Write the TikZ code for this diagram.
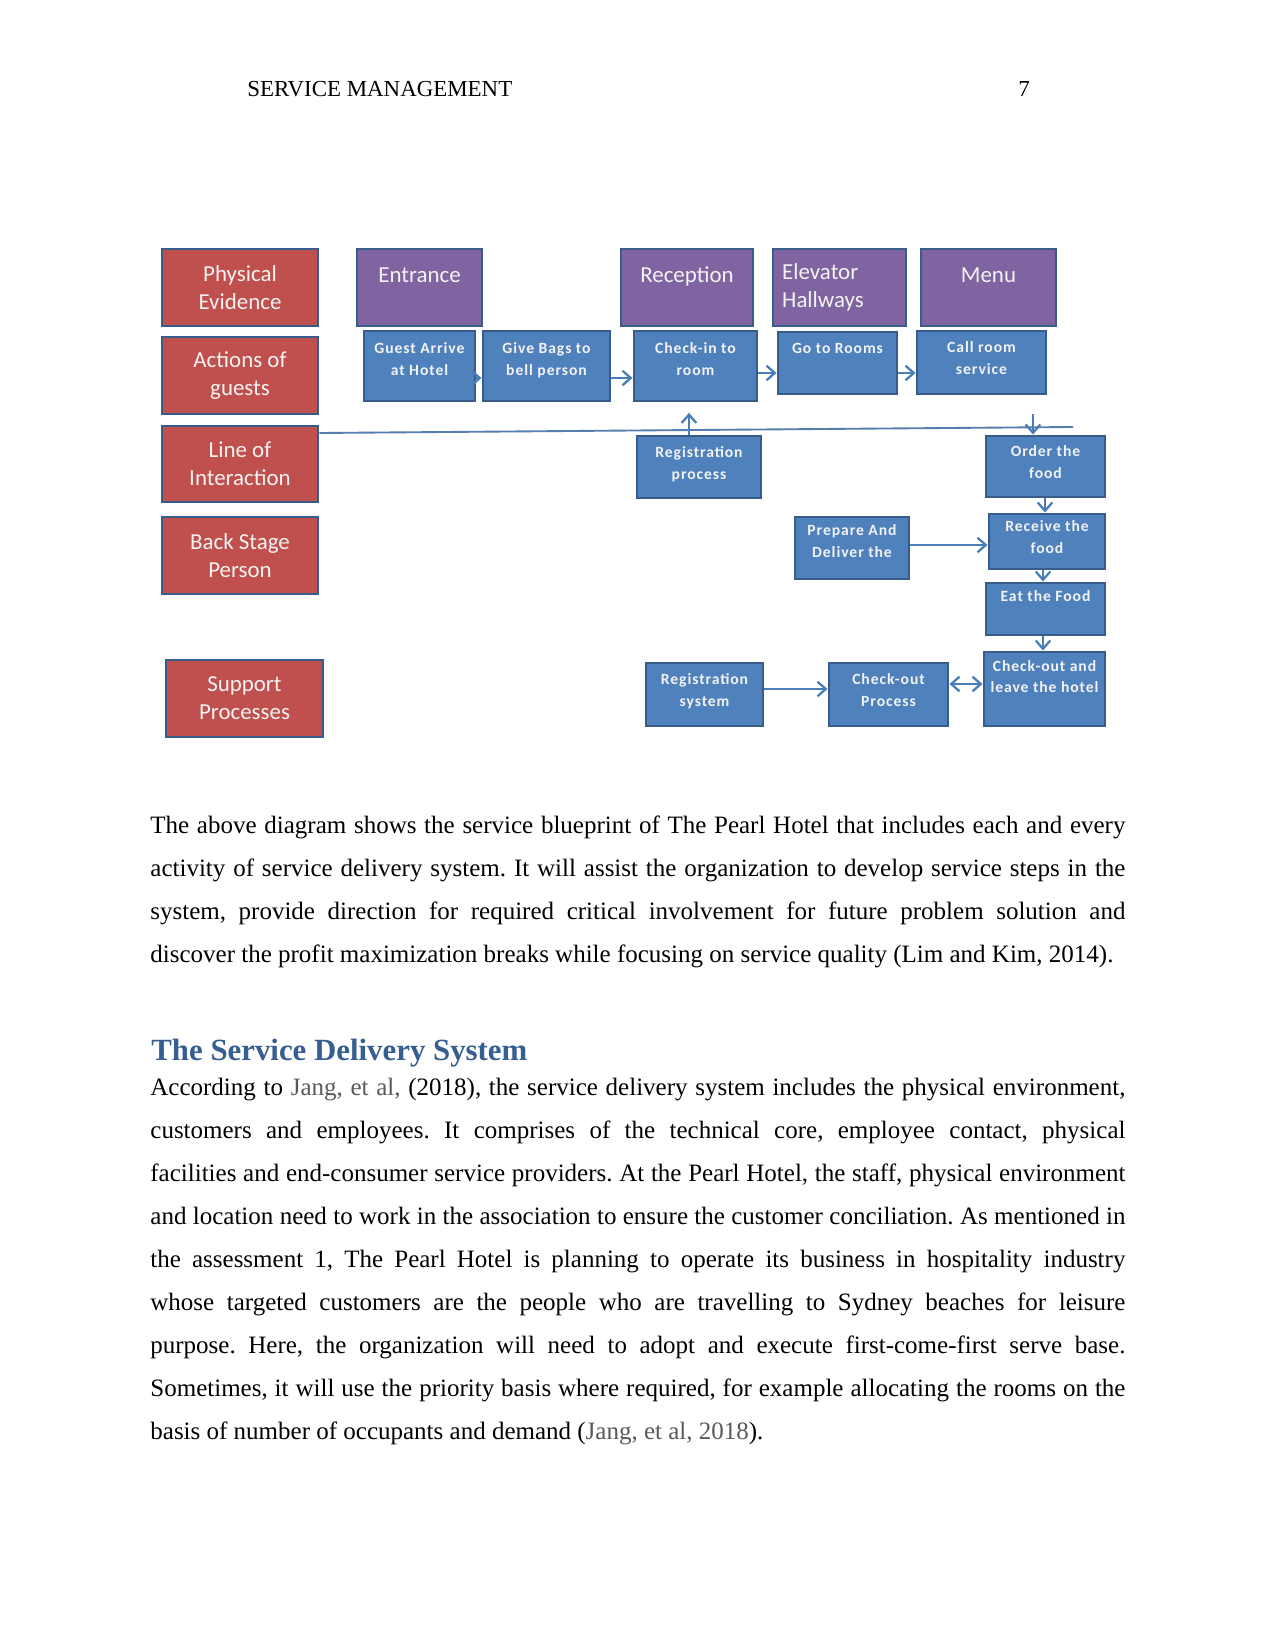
\documentclass[tikz,border=0pt]{standalone}
\usepackage{fontspec}
\setmainfont{Liberation Serif}
\newfontfamily\boxfont{Carlito}
\newfontfamily\stepfont{Carlito}[LetterSpace=6]
\newfontfamily\headfont{Liberation Serif}
\usetikzlibrary{arrows.meta}
\definecolor{redfill}{HTML}{C0504D}
\definecolor{purfill}{HTML}{8064A2}
\definecolor{bluefill}{HTML}{4F81BD}
\definecolor{bordercol}{HTML}{385D8A}
\definecolor{arrowcol}{HTML}{4A7EBB}
\definecolor{headblue}{HTML}{365F91}
\definecolor{citegray}{HTML}{595959}
\newcommand\bx[7]{\node[#6, minimum width={(#4-#2)*0.48pt}, minimum height={(#5-#3)*0.48pt}] (#1) at ({(#2+#4)/2},{(#3+#5)/2}) {#7};}
\newcommand\jline[1]{\makebox[468pt][s]{#1}}
\newcommand\cit[1]{\textcolor{citegray}{#1}}
\frenchspacing
\tikzset{
  boxbase/.style={draw=bordercol, line width=1.4pt, text=white!95!black, align=center, inner sep=0pt},
  redbox/.style={boxbase, fill=redfill, font=\boxfont\fontsize{11}{13.5}\selectfont},
  purbox/.style={boxbase, fill=purfill, font=\boxfont\fontsize{11}{13.5}\selectfont},
  stepbox/.style={boxbase, fill=bluefill, font=\stepfont\bfseries\fontsize{7.5}{10.5}\selectfont, text depth=7pt},
  arr/.style={draw=arrowcol, line width=1.1pt, -{Straight Barb[length=4pt,width=7pt]}},
  darr/.style={draw=arrowcol, line width=1.1pt, {Straight Barb[length=4pt,width=7pt]}-{Straight Barb[length=4pt,width=7pt]}},
  lineint/.style={draw=arrowcol!80!gray, line width=0.9pt},
  txt/.style={anchor=base west, inner sep=0pt, font=\frenchspacing\fontsize{12}{14}\selectfont}
}
\begin{document}
\begin{tikzpicture}[x=0.48pt, y=-0.48pt]
\useasboundingbox (0,0) rectangle (1275,1650);
\fill[white] (0,0) rectangle (1275,1650);

% header
\node[txt, font=\fontsize{11}{13}\selectfont] (hdr) at (247,97) {SERVICE MANAGEMENT};
\node[txt, font=\fontsize{11}{13}\selectfont] (pg) at (1018,97) {7};

% red boxes
\bx{pe}{162}{249}{318}{326}{redbox}{Physical\\Evidence}
\bx{aog}{162}{337}{318}{414}{redbox}{Actions of\\guests}
\bx{loi}{162}{426}{318}{502}{redbox}{Line of\\Interaction}
\bx{bsp}{162}{517}{318}{594}{redbox}{Back Stage\\Person}
\bx{sp}{166}{660}{323}{737}{redbox}{Support\\Processes}

% purple boxes
\bx{ent}{357}{249}{482}{326}{purbox, text depth=12pt}{Entrance}
\bx{rec}{621}{249}{753}{326}{purbox, text depth=12pt}{Reception}
\bx{elev}{773}{249}{906}{326}{purbox, align=left, text width=55pt}{Elevator\\Hallways}
\bx{menu}{921}{249}{1056}{326}{purbox, text depth=12pt}{Menu}

% blue step boxes
\bx{ga}{364}{331}{475}{401}{stepbox}{Guest Arrive\\at Hotel}
\bx{gb}{483}{331}{610}{401}{stepbox}{Give Bags to\\bell person}
\bx{ci}{634}{331}{757}{401}{stepbox}{Check-in to\\room}
\bx{gr}{778}{332}{897}{394}{stepbox, text depth=14pt}{Go to Rooms}
\bx{crs}{917}{331}{1046}{394}{stepbox, text depth=4pt}{Call room\\service}
\bx{rp}{637}{436}{761}{498}{stepbox, text depth=4pt}{Registration\\process}
\bx{of}{986}{436}{1105}{497}{stepbox, text depth=4pt}{Order the\\food}
\bx{pd}{795}{517}{909}{579}{stepbox}{Prepare And\\Deliver the}
\bx{rf}{989}{514}{1105}{569}{stepbox, text depth=4pt}{Receive the\\food}
\bx{ef}{986}{583}{1105}{635}{stepbox, text depth=12pt}{Eat the Food}
\bx{co}{984}{652}{1105}{726}{stepbox, text depth=12pt}{Check-out and\\leave the hotel}
\bx{rs}{646}{663}{763}{726}{stepbox, text depth=4pt}{Registration\\system}
\bx{cop}{829}{663}{948}{726}{stepbox, text depth=4pt}{Check-out\\Process}

% line of interaction
\coordinate (loiE) at (1073,427);
\draw[lineint] (loi.east |- 0,433) -- (loiE);

% connectors
\draw[arr] (ga.east |- 0,378) -- (gb.west |- 0,378);
\draw[arr] (gb.east |- 0,378) -- (ci.west |- 0,378);
\draw[arr] (ci.east |- 0,373) -- (gr.west |- 0,373);
\draw[arr] (gr.east |- 0,373) -- (crs.west |- 0,373);
\draw[arr, shorten >=5pt] (689,0 |- rp.north) -- (689,0 |- ci.south);
\draw[arr, shorten <=9pt] (1033,0 |- crs.south) -- (1033,0 |- of.north);
\draw[arr] (1045,0 |- of.south) -- (1045,0 |- rf.north);
\draw[arr] (1043,0 |- rf.south) -- (1043,0 |- ef.north);
\draw[arr] (1043,0 |- ef.south) -- (1043,0 |- co.north);
\draw[arr] (pd.east |- 0,545) -- (rf.west |- 0,545);
\draw[arr] (rs.east |- 0,689) -- (cop.west |- 0,689);
\draw[darr] (cop.east |- 0,684) -- (co.west |- 0,684);

% paragraph 1
\node[txt] (p1a) at (150,833) {\jline{The above diagram shows the service blueprint of The Pearl Hotel that includes each and every}};
\node[txt] (p1b) at (150,876.3) {\jline{activity of service delivery system. It will assist the organization to develop service steps in the}};
\node[txt] (p1c) at (150,919.6) {\jline{system, provide direction for required critical involvement for future problem solution and}};
\node[txt] (p1d) at (150,962.9) {discover the profit maximization breaks while focusing on service quality (Lim and Kim, 2014).};

% heading
\node[anchor=base west, inner sep=0pt, text=headblue, font=\headfont\bfseries\fontsize{14.8}{17}\selectfont] (head) at (151,1060) {The Service Delivery System};

% paragraph 2
\node[txt] (p2a) at (150,1095) {\jline{According to \cit{Jang, et al,} (2018), the service delivery system includes the physical environment,}};
\node[txt] (p2b) at (150,1138.1) {\jline{customers and employees. It comprises of the technical core, employee contact, physical}};
\node[txt] (p2c) at (150,1181.2) {\jline{facilities and end-consumer service providers. At the Pearl Hotel, the staff, physical environment}};
\node[txt] (p2d) at (150,1224.3) {\jline{and location need to work in the association to ensure the customer conciliation. As mentioned in}};
\node[txt] (p2e) at (150,1267.4) {\jline{the assessment 1, The Pearl Hotel is planning to operate its business in hospitality industry}};
\node[txt] (p2f) at (150,1310.5) {\jline{whose targeted customers are the people who are travelling to Sydney beaches for leisure}};
\node[txt] (p2g) at (150,1353.6) {\jline{purpose. Here, the organization will need to adopt and execute first-come-first serve base.}};
\node[txt] (p2h) at (150,1396.7) {\jline{Sometimes, it will use the priority basis where required, for example allocating the rooms on the}};
\node[txt] (p2i) at (150,1439.8) {basis of number of occupants and demand (\cit{Jang, et al, 2018}).};
\end{tikzpicture}
\end{document}
